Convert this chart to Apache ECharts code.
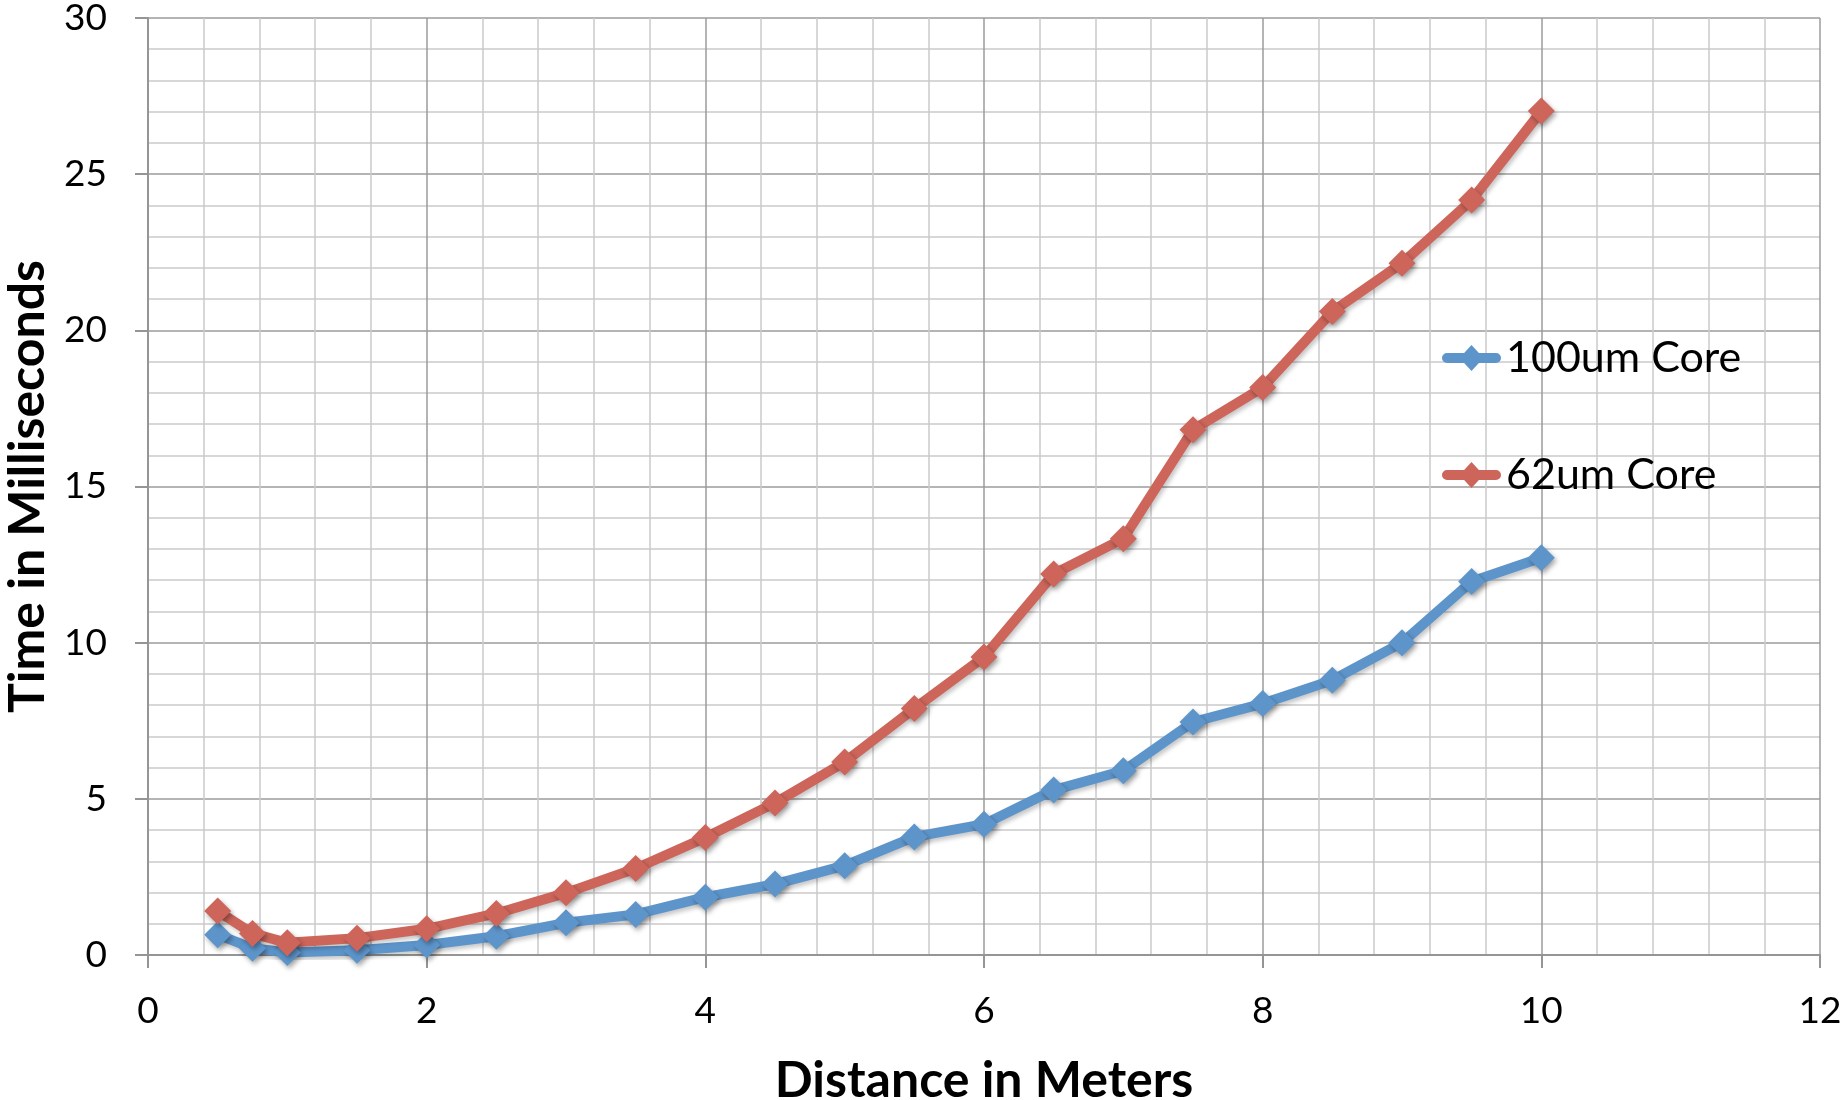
<!DOCTYPE html>
<html>
<head>
<meta charset="utf-8">
<script src="https://cdn.jsdelivr.net/npm/echarts@6/dist/echarts.min.js"></script>
<style>
  html, body { margin: 0; padding: 0; background: #ffffff; }
  #chart { width: 1848px; height: 1100px; }
</style>
</head>
<body>
<div id="chart"></div>
<script>
// Distance in meters (x values)
var distances = [0.5, 0.75, 1, 1.5, 2, 2.5, 3, 3.5, 4, 4.5, 5, 5.5, 6, 6.5, 7, 7.5, 8, 8.5, 9, 9.5, 10];
// Time in milliseconds, 100um core
var core100 = [0.65, 0.22, 0.08, 0.15, 0.32, 0.6, 1.03, 1.3, 1.85, 2.27, 2.86, 3.78, 4.19, 5.28, 5.9, 7.46, 8.05, 8.8, 10.0, 11.96, 12.72];
// Time in milliseconds, 62um core
var core62 = [1.41, 0.69, 0.39, 0.54, 0.84, 1.33, 1.99, 2.77, 3.76, 4.87, 6.18, 7.89, 9.54, 12.2, 13.33, 16.82, 18.17, 20.6, 22.15, 24.17, 27.02];

var seriesNames = ['100um Core', '62um Core'];
var xTitle = 'Distance in Meters';
var yTitle = 'Time in Milliseconds';

function pairs(xs, ys) {
  var out = [];
  for (var i = 0; i < xs.length; i++) out.push([xs[i], ys[i]]);
  return out;
}

var FONT = 'Lato';
var BLUE = '#5d95cb';
var RED = '#cd655a';
// legend icon: thick rounded bar with a diamond on it
var LEGEND_ICON = 'path://M5,8 L54,8 A5,5 0 0 1 54,18 L5,18 A5,5 0 0 1 5,8 Z M29.5,0 L41.5,13 L29.5,26 L17.5,13 Z';

var chart = echarts.init(document.getElementById('chart'), null, { renderer: 'canvas' });

function makeSeries(name, data, color) {
  return {
    name: name,
    type: 'line',
    data: data,
    symbol: 'diamond',
    symbolSize: 27,
    showSymbol: true,
    z: 3,
    lineStyle: {
      color: color,
      width: 10,
      cap: 'round',
      join: 'round',
      shadowColor: 'rgba(0,0,0,0.22)',
      shadowBlur: 4,
      shadowOffsetX: 2,
      shadowOffsetY: 3
    },
    itemStyle: {
      color: color,
      borderWidth: 0,
      shadowColor: 'rgba(0,0,0,0.35)',
      shadowBlur: 5,
      shadowOffsetX: 2,
      shadowOffsetY: 3
    },
    emphasis: { disabled: true },
    animation: false
  };
}

var option = {
  backgroundColor: '#ffffff',
  animation: false,
  textStyle: { fontFamily: FONT },
  grid: { left: 148, right: 28, top: 18, bottom: 145, containLabel: false, outerBoundsMode: 'none' },
  legend: {
    orient: 'vertical',
    left: 1437,
    top: 328,
    itemWidth: 59,
    itemHeight: 26,
    itemGap: 67,
    icon: LEGEND_ICON,
    data: seriesNames.map(function (n, i) {
      return { name: n, icon: LEGEND_ICON, itemStyle: { color: i === 0 ? BLUE : RED, shadowBlur: 0 } };
    }),
    textStyle: { fontFamily: FONT, fontSize: 43, color: '#000', lineHeight: 50 },
    selectedMode: false
  },
  xAxis: {
    type: 'value',
    min: 0,
    max: 12,
    interval: 2,
    name: xTitle,
    nameLocation: 'middle',
    nameGap: 101,
    nameTextStyle: { fontFamily: FONT, fontWeight: 'bold', fontSize: 50, color: '#000' },
    axisLine: { show: true, onZero: false, lineStyle: { color: '#959595', width: 2 } },
    axisTick: { show: true, inside: false, length: 13, lineStyle: { color: '#959595', width: 2 } },
    axisLabel: { fontFamily: FONT, fontSize: 37, color: '#000', margin: 38 },
    splitLine: { show: true, lineStyle: { color: '#9b9b9b', width: 1.5 } },
    minorTick: { show: false, splitNumber: 5 },
    minorSplitLine: { show: true, lineStyle: { color: '#cacaca', width: 1.5 } }
  },
  yAxis: {
    type: 'value',
    min: 0,
    max: 30,
    interval: 5,
    name: yTitle,
    nameLocation: 'middle',
    nameGap: 90,
    nameRotate: 90,
    nameTextStyle: { fontFamily: FONT, fontWeight: 'bold', fontSize: 50, color: '#000' },
    axisLine: { show: true, lineStyle: { color: '#959595', width: 2 } },
    axisTick: { show: true, inside: false, length: 13, lineStyle: { color: '#959595', width: 2 } },
    axisLabel: { fontFamily: FONT, fontSize: 37, color: '#000', margin: 41 },
    splitLine: { show: true, lineStyle: { color: '#9b9b9b', width: 1.5 } },
    minorTick: { show: false, splitNumber: 5 },
    minorSplitLine: { show: true, lineStyle: { color: '#cacaca', width: 1.5 } }
  },
  series: [
    makeSeries(seriesNames[0], pairs(distances, core100), BLUE),
    makeSeries(seriesNames[1], pairs(distances, core62), RED)
  ]
};

chart.setOption(option);
</script>
</body>
</html>
